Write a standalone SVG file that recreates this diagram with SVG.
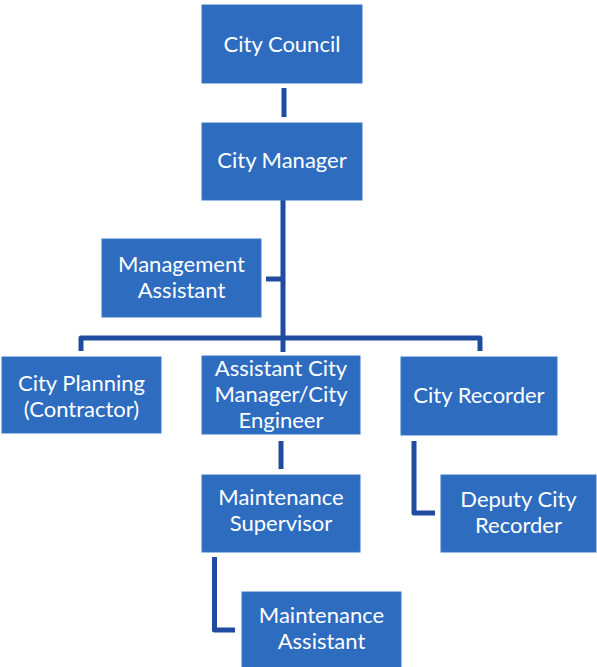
<svg xmlns="http://www.w3.org/2000/svg" width="597" height="667" viewBox="0 0 597 667">
<style>
.box{fill:#2d6cbf;stroke:#3a78c6;stroke-width:1}
.t{fill:#ffffff;font-family:Lato,"Open Sans","Liberation Sans",sans-serif;font-size:22px;text-anchor:middle}
.c{fill:none;stroke:#1f4c9f;stroke-width:5;stroke-linejoin:round;stroke-linecap:butt}
</style>
<rect width="597" height="667" fill="#ffffff"/>
<g id="connectors">
<path class="c" d="M284,88 V117"/>
<path class="c" d="M283,200 V352"/>
<path class="c" d="M266,279 H283"/>
<path class="c" d="M81,351 V338 H480 V351"/>
<path class="c" d="M281,441 V469"/>
<path class="c" d="M414,441 V513 H435"/>
<path class="c" d="M214.5,557 V630 H235"/>
</g>
<g id="city-council"><rect class="box" x="202" y="5" width="160" height="78"/><text class="t" x="282" y="52">City Council</text></g>
<g id="city-manager"><rect class="box" x="202" y="123" width="160" height="77"/><text class="t" x="282" y="168">City Manager</text></g>
<g id="management-assistant"><rect class="box" x="102" y="239" width="159" height="78"/><text class="t" x="181.5" y="272">Management</text><text class="t" x="181.5" y="298">Assistant</text></g>
<g id="city-planning"><rect class="box" x="2" y="357" width="159" height="76"/><text class="t" x="81.5" y="391">City Planning</text><text class="t" x="81.5" y="417">(Contractor)</text></g>
<g id="assistant-city-manager"><rect class="box" x="202" y="356" width="158" height="78"/><text class="t" x="281" y="376">Assistant City</text><text class="t" x="281" y="402">Manager/City</text><text class="t" x="281" y="428">Engineer</text></g>
<g id="city-recorder"><rect class="box" x="401" y="357" width="156" height="78"/><text class="t" x="479" y="403">City Recorder</text></g>
<g id="maintenance-supervisor"><rect class="box" x="202" y="475" width="158" height="77"/><text class="t" x="281" y="505">Maintenance</text><text class="t" x="281" y="531">Supervisor</text></g>
<g id="deputy-city-recorder"><rect class="box" x="441" y="475" width="155" height="77"/><text class="t" x="518.5" y="507">Deputy City</text><text class="t" x="518.5" y="533">Recorder</text></g>
<g id="maintenance-assistant"><rect class="box" x="242" y="592" width="159" height="76"/><text class="t" x="321.5" y="623">Maintenance</text><text class="t" x="321.5" y="649">Assistant</text></g>
</svg>
